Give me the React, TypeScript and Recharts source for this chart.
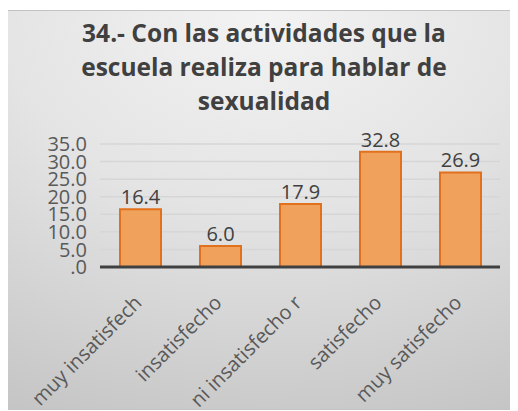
import { BarChart, Bar, XAxis, YAxis, CartesianGrid, LabelList } from 'recharts';

const categories = ['muy insatisfech', 'insatisfecho', 'ni insatisfecho r', 'satisfecho', 'muy satisfecho'];
const percentages = [16.4, 6.0, 17.9, 32.8, 26.9];
const yTicks = [0, 5, 10, 15, 20, 25, 30, 35];

const data = categories.map((name, i) => ({ name, value: percentages[i] }));

const FONT = '"Open Sans", "Noto Sans", sans-serif';

function AngledTick(props: any) {
  const { x, y, payload } = props;
  return (
    <g transform={`translate(${x + 3},${y + 37})`}>
      <text
        x={0}
        y={0}
        transform="rotate(-45)"
        textAnchor="end"
        fill="#595959"
        fontSize={20}
        fontFamily={FONT}
      >
        {payload.value}
      </text>
    </g>
  );
}

export default function App() {
  return (
    <div
      style={{
        position: 'relative',
        width: 512,
        height: 398,
        margin: '2px 0 0 -1px',
        border: '1px solid #c3c3c3',
        background: 'radial-gradient(ellipse 115% 110% at 50% 0%, #f3f3f3 0%, #e4e4e4 45%, #c5c5c5 100%)',
        fontFamily: FONT,
        overflow: 'hidden',
      }}
    >
      <div
        style={{
          position: 'absolute',
          top: 5,
          left: 0,
          width: 512,
          textAlign: 'center',
          fontSize: 24.5,
          fontWeight: 700,
          lineHeight: '34px',
          color: '#404040',
        }}
      >
        34.- Con las actividades que la
        <br />
        escuela realiza para hablar de
        <br />
        sexualidad
      </div>
      <BarChart
        width={510}
        height={398}
        data={data}
        margin={{ top: 133, right: 18, left: 0, bottom: 22 }}
      >
        <CartesianGrid vertical={false} stroke="#d6d6d6" strokeWidth={1.5} />
        <YAxis
          width={92}
          domain={[0, 35]}
          ticks={yTicks}
          axisLine={false}
          tickLine={false}
          tickSize={0}
          tickMargin={13}
          interval={0}
          tickFormatter={(v: number) => (v === 0 ? '.0' : v.toFixed(1))}
          tick={{ fill: '#595959', fontSize: 20, fontFamily: FONT }}
        />
        <XAxis
          dataKey="name"
          height={120}
          interval={0}
          tickLine={false}
          tickSize={0}
          tickMargin={0}
          axisLine={{ stroke: '#404040', strokeWidth: 3 }}
          tick={<AngledTick />}
        />
        <Bar dataKey="value" barSize={41} fill="#F0A15C" stroke="#E2711D" strokeWidth={2} isAnimationActive={false}>
          <LabelList
            dataKey="value"
            position="top"
            offset={5}
            formatter={(v: number) => v.toFixed(1)}
            style={{ fill: '#404040', fontSize: 20, fontFamily: FONT }}
          />
        </Bar>
      </BarChart>
    </div>
  );
}
